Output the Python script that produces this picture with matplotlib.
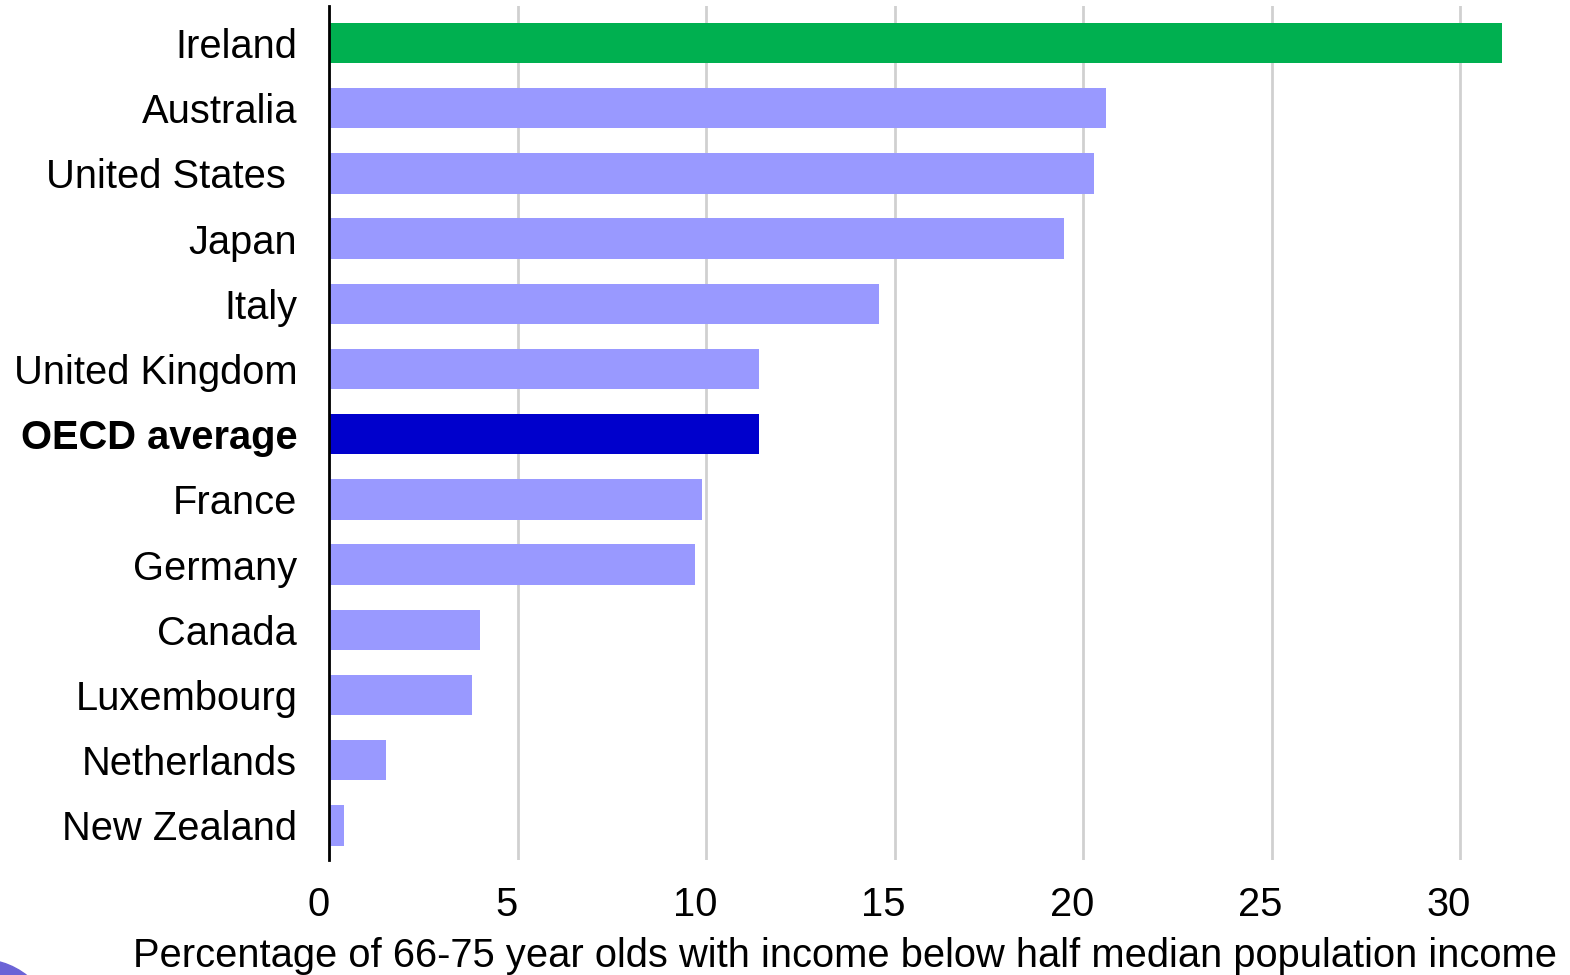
import matplotlib.pyplot as plt
from matplotlib.patches import Circle
import matplotlib.transforms as mtransforms

# data
countries = ["Ireland", "Australia", "United States ", "Japan", "Italy",
             "United Kingdom", "OECD average", "France", "Germany", "Canada",
             "Luxembourg", "Netherlands", "New Zealand"]
values = [31.1, 20.6, 20.3, 19.5, 14.6, 11.4, 11.4, 9.9, 9.7, 4.0, 3.8, 1.5, 0.4]
xticks = [0, 5, 10, 15, 20, 25, 30]

plt.rcParams['font.family'] = ['Liberation Sans', 'DejaVu Sans']

colors = []
for c in countries:
    if c == "Ireland":
        colors.append("#00B050")
    elif c == "OECD average":
        colors.append("#0000CC")
    else:
        colors.append("#9999FF")

fig = plt.figure(figsize=(15.7, 9.75), dpi=100)
ax = fig.add_axes([0.2096, 0.118, 0.7684, 0.876])

ypos = list(range(len(countries)))
ax.barh(ypos, values, height=0.62, color=colors, zorder=3)
ax.set_ylim(len(countries) - 0.47, -0.57)
ax.set_xlim(0, 32)

ax.set_yticks(ypos)
ax.set_yticklabels(countries, fontsize=28.7)
for lab in ax.get_yticklabels():
    if lab.get_text() == "OECD average":
        lab.set_fontweight("bold")
ax.tick_params(axis='y', length=0, pad=23)

ax.set_xticks(xticks)
ax.set_xticklabels([str(t) for t in xticks], fontsize=28.7)
ax.tick_params(axis='x', length=0, pad=19)
# tick labels sit a little left of their gridlines in the original
offset = mtransforms.ScaledTranslation(-11 / 100, 0, fig.dpi_scale_trans)
for lab in ax.get_xticklabels():
    lab.set_transform(lab.get_transform() + offset)

ax.set_xlabel("Percentage of 66-75 year olds with income below half median population income",
              fontsize=28.7)
ax.xaxis.set_label_coords(0.428, -0.09)

ax.grid(axis='x', color='#D0D0D0', linewidth=2, zorder=0)
for s in ['top', 'right', 'bottom']:
    ax.spines[s].set_visible(False)
ax.spines['left'].set_linewidth(2)
ax.spines['left'].set_zorder(4)

# slide decoration in the bottom-left corner
fig.patches.append(Circle((-20, -60), 75.7, transform=None, color="#6B63D6", zorder=0))

fig.savefig("out.png", dpi=100)
